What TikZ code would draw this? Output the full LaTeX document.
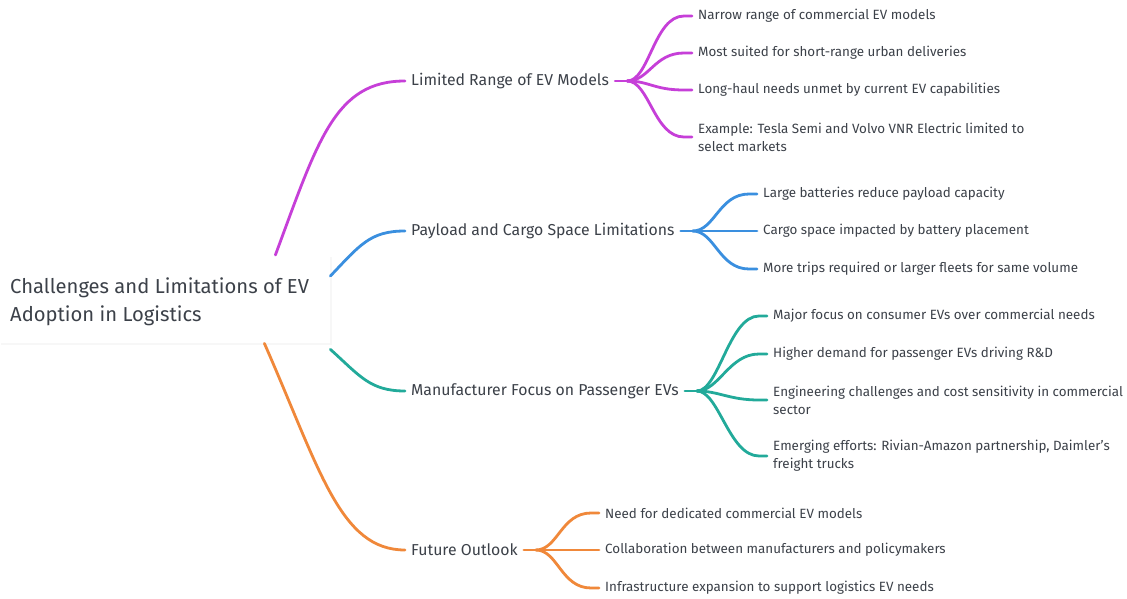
\documentclass[tikz,border=0pt]{standalone}
\usepackage{fontspec}
\setmainfont{Fira Sans}
\usetikzlibrary{positioning, calc}

\definecolor{txtgray}{HTML}{3C4149}
\definecolor{cmag}{HTML}{C63FD8}
\definecolor{cblue}{HTML}{3A8FDF}
\definecolor{cteal}{HTML}{22AA9A}
\definecolor{corange}{HTML}{F0883A}

\begin{document}
\begin{tikzpicture}[
		x=1pt, y=-1pt,
		rootnode/.style={
				fill=white, minimum width=330pt, minimum height=88pt,
				anchor=north west, inner sep=0pt,
			},
		topicnode/.style={anchor=west, inner sep=6pt, text=txtgray,
				font=\fontsize{15.8}{19}\selectfont},
		leafnode/.style={anchor=west, inner sep=6pt, text=txtgray, align=left,
				font=\fontsize{13.4}{18}\selectfont},
		link/.style={line width=2.8pt, line cap=round},
	]
	\useasboundingbox[fill=white] (0,0) rectangle (1127,599);

	% root
	\fill[black!3] (1,257) rectangle (332,345);
	\node[rootnode] (root) at (0,255) {};
	\node[anchor=west, text=txtgray, align=left, inner sep=0pt,
		font=\fontsize{20.2}{28}\selectfont] (roottxt) at (10,302)
		{Challenges and Limitations of EV\\Adoption in Logistics};

	% topics
	\node[topicnode] (lim) at (405,81) {Limited Range of EV Models};
	\node[topicnode] (pay) at (405,231) {Payload and Cargo Space Limitations};
	\node[topicnode] (man) at (405,391) {Manufacturer Focus on Passenger EVs};
	\node[topicnode] (fut) at (405,550) {Future Outlook};

	\draw[link, cmag] ([xshift=-55]root.north east) .. controls (318,140) and (335,81) .. (lim.west);
	\draw[link, cblue] ([yshift=-21]root.north east) .. controls (360,245) and (370,231) .. (pay.west);
	\draw[link, cteal] ([yshift=-6]root.south east) .. controls (360,376) and (370,391) .. (man.west);
	\draw[link, corange] ([xshift=-66]root.south east) .. controls (320,470) and (340,550) .. (fut.west);

	% leaves: limited range
	\node[leafnode] (lim1) at (692,16) {Narrow range of commercial EV models};
	\node[leafnode] (lim2) at (692,53) {Most suited for short-range urban deliveries};
	\node[leafnode] (lim3) at (692,90) {Long-haul needs unmet by current EV capabilities};
	\node[leafnode] (lim4) at (692,137) {Example: Tesla Semi and Volvo VNR Electric limited to\\select markets};

	% leaves: payload
	\node[leafnode] (pay1) at (757,194) {Large batteries reduce payload capacity};
	\node[leafnode] (pay2) at (757,231) {Cargo space impacted by battery placement};
	\node[leafnode] (pay3) at (757,269) {More trips required or larger fleets for same volume};

	% leaves: manufacturer
	\node[leafnode] (man1) at (767,316) {Major focus on consumer EVs over commercial needs};
	\node[leafnode] (man2) at (767,354) {Higher demand for passenger EVs driving R\&D};
	\node[leafnode] (man3) at (767,400) {Engineering challenges and cost sensitivity in commercial\\sector};
	\node[leafnode] (man4) at (767,456) {Emerging efforts: Rivian-Amazon partnership, Daimler's\\freight trucks};

	% leaves: outlook
	\node[leafnode] (fut1) at (599,513) {Need for dedicated commercial EV models};
	\node[leafnode] (fut2) at (599,550) {Collaboration between manufacturers and policymakers};
	\node[leafnode] (fut3) at (599,588) {Infrastructure expansion to support logistics EV needs};

	% fans
	\draw[link, cmag] (lim.east) -- ++(12,0) coordinate (limf);
	\foreach \l in {lim1,lim2,lim3,lim4}
		\draw[link, cmag] (limf) .. controls +(22,0) and +(-30,0) .. ([xshift=-8]\l.west) -- (\l.west);

	\draw[link, cblue] (pay.east) -- ++(12,0) coordinate (payf);
	\foreach \l in {pay1,pay2,pay3}
		\draw[link, cblue] (payf) .. controls +(22,0) and +(-30,0) .. ([xshift=-8]\l.west) -- (\l.west);

	\draw[link, cteal] (man.east) -- ++(12,0) coordinate (manf);
	\foreach \l in {man1,man2,man3,man4}
		\draw[link, cteal] (manf) .. controls +(22,0) and +(-30,0) .. ([xshift=-8]\l.west) -- (\l.west);

	\draw[link, corange] (fut.east) -- ++(12,0) coordinate (futf);
	\foreach \l in {fut1,fut2,fut3}
		\draw[link, corange] (futf) .. controls +(22,0) and +(-30,0) .. ([xshift=-8]\l.west) -- (\l.west);
\end{tikzpicture}
\end{document}
